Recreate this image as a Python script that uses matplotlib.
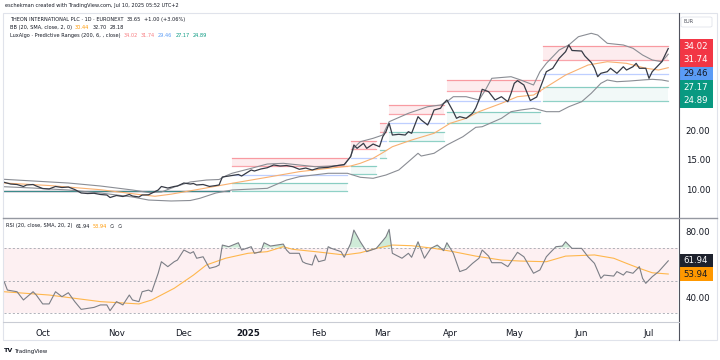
import numpy as np
import matplotlib
matplotlib.use("Agg")
import matplotlib.pyplot as plt
from matplotlib import transforms
from matplotlib.patches import Rectangle, FancyBboxPatch
from matplotlib.lines import Line2D

# ---------------- data (x = trading-day index, 0 = 1 Oct 2024) ----------------
close_idx = [-12, -10, -8, -6, -5, -3, -2, 0, 2, 4, 6, 8, 10, 12, 14, 16, 18, 20, 21, 23, 25, 27, 28, 30, 31, 33,
             36, 37, 39, 41, 42, 44, 46, 47, 48, 50, 52, 54, 55, 56, 58, 61, 62, 65, 66, 68, 70, 72, 74, 76, 78, 80,
             82, 84, 86, 89, 91, 93, 94, 96, 97, 98, 100, 101, 103, 105, 106, 107, 108, 109, 111, 113, 114, 115,
             117, 118, 120, 121, 122, 124, 125, 126, 128, 129, 130, 132, 134, 135, 136, 137, 139, 141, 143, 145,
             146, 147, 148, 150, 152, 154, 156, 157, 159, 161, 163, 164, 165, 168, 169, 171, 172, 173, 174, 176,
             177, 179, 181, 182, 184, 185, 186, 188, 189, 190, 192, 193, 194, 195]
close_px = [11.24, 10.95, 10.87, 10.54, 10.79, 10.87, 10.62, 10.20, 10.12, 10.54, 10.37, 10.45, 10.03, 9.45, 9.36,
            9.40, 9.20, 9.11, 8.69, 9.03, 8.86, 9.20, 8.94, 8.78, 9.11, 9.15, 9.95, 10.54, 10.28, 10.54, 10.62,
            11.12, 10.95, 11.04, 10.79, 10.87, 10.55, 10.70, 10.80, 12.13, 12.29, 12.55, 12.29, 13.30, 13.13,
            13.47, 13.68, 14.14, 13.97, 14.05, 13.85, 13.42, 13.63, 13.30, 13.63, 13.75, 13.97, 14.14, 14.22,
            15.53, 17.49, 16.93, 17.77, 16.93, 17.65, 17.20, 18.88, 19.72, 21.12, 19.16, 19.28, 19.16, 19.72,
            19.45, 22.23, 21.68, 20.84, 21.96, 23.35, 23.64, 24.47, 25.03, 23.07, 21.96, 22.23, 21.96, 22.80,
            23.69, 25.03, 26.82, 26.42, 25.03, 25.58, 24.74, 26.15, 27.82, 28.26, 27.54, 24.94, 25.53, 28.38,
            29.77, 30.34, 32.01, 33.12, 34.24, 33.32, 33.23, 32.40, 31.31, 30.39, 28.93, 29.50, 29.77, 30.34,
            29.50, 30.60, 30.05, 30.60, 31.17, 30.34, 30.34, 28.66, 29.77, 30.89, 31.44, 32.56, 33.65]

bb_up_idx = [-12, -3, 8, 18, 28, 33, 37, 41, 46, 51, 55, 57, 59, 65, 70, 75, 80, 85, 90, 94, 96, 97, 99, 103, 106,
             108, 114, 120, 124, 126, 128, 132, 136, 138, 140, 146, 149, 153, 155, 157, 161, 164, 167, 171, 173,
             176, 181, 184, 187, 190, 193, 195]
bb_up = [11.74, 11.46, 11.12, 10.62, 9.95, 9.53, 9.61, 10.45, 11.29, 11.62, 11.71, 12.30, 12.75, 13.58, 14.30,
         14.42, 14.14, 13.85, 13.97, 14.14, 15.60, 17.00, 18.04, 18.61, 19.16, 21.39, 22.80, 23.90, 24.19, 24.74,
         25.58, 25.58, 25.03, 26.70, 28.66, 28.93, 28.38, 27.54, 29.77, 31.17, 33.40, 34.24, 35.63, 36.20, 35.91,
         34.52, 34.24, 33.69, 32.56, 31.73, 31.44, 32.70]

bb_mid_idx = [-12, 2, 18, 30, 35, 40, 49, 59, 70, 80, 89, 96, 99, 103, 106, 109, 115, 122, 127, 132, 136, 143,
              148, 153, 158, 163, 170, 176, 182, 188, 192, 195]
bb_mid = [11.12, 10.70, 10.00, 9.20, 8.90, 9.25, 10.10, 11.07, 12.08, 13.02, 13.58, 13.97, 14.42, 15.26, 16.20,
          17.20, 18.32, 19.45, 21.12, 21.96, 23.07, 24.47, 25.58, 25.86, 27.54, 29.21, 30.89, 31.44, 31.17, 30.34,
          30.05, 30.44]

bb_lo_idx = [-12, -3, 8, 18, 28, 33, 40, 46, 49, 54, 59, 70, 76, 80, 89, 95, 99, 103, 107, 111, 114, 117, 118,
             122, 126, 131, 135, 137, 143, 146, 149, 153, 157, 161, 164, 168, 171, 174, 176, 179, 183, 187, 190,
             193, 195]
bb_lo = [10.50, 10.28, 9.95, 9.45, 8.78, 8.27, 8.11, 8.19, 8.56, 9.45, 9.95, 10.23, 11.62, 12.18, 12.75, 12.75,
         12.08, 11.91, 12.46, 13.30, 14.69, 16.10, 15.64, 16.10, 17.49, 18.88, 20.45, 20.55, 21.96, 23.07, 23.35,
         23.64, 23.07, 23.07, 23.90, 24.74, 26.15, 27.82, 28.38, 28.09, 28.21, 28.38, 28.49, 28.38, 28.18]

# LuxAlgo predictive range segments
pr_start = [-12, 59, 96, 105, 108, 126, 156]
pr_end = [58, 95, 104, 107, 125, 155, 195]
pr_r2 = [9.78, 15.26, 18.16, 21.12, 24.19, 28.38, 34.02]
pr_r1 = [9.78, 13.89, 16.75, 19.66, 22.68, 26.58, 31.74]
pr_avg = [9.78, 12.52, 15.34, 18.19, 21.20, 24.80, 29.46]
pr_s1 = [9.78, 11.15, 13.94, 16.73, 19.71, 23.01, 27.17]
pr_s2 = [9.78, 9.78, 12.55, 15.26, 18.21, 21.22, 24.89]

rsi_idx = [-12, -11, -8, -6, -3, -2, 0, 2, 4, 6, 8, 10, 12, 14, 16, 18, 20, 21, 23, 25, 27, 28, 30, 31, 33, 34,
           36, 37, 39, 41, 42, 44, 46, 47, 48, 50, 52, 54, 55, 56, 58, 61, 62, 65, 66, 68, 69, 71, 73, 75, 76, 77,
           80, 81, 82, 84, 85, 86, 88, 89, 90, 93, 94, 96, 97, 99, 101, 104, 106, 107, 108, 109, 112, 114, 115,
           117, 119, 121, 123, 125, 126, 128, 130, 132, 134, 136, 137, 139, 140, 143, 145, 148, 150, 153, 155,
           157, 158, 160, 162, 163, 165, 168, 170, 172, 174, 175, 178, 179, 181, 182, 184, 186, 187, 188, 190,
           192, 195]
rsi_val = [49.3, 44.2, 43.2, 38.2, 43.2, 41.2, 35.8, 35.8, 43.2, 40.2, 42.6, 37.2, 32.5, 33.1, 33.7, 35.2, 35.2,
           31.7, 37.2, 35.2, 41.2, 38.2, 37.2, 43.2, 44.2, 43.2, 54.4, 61.4, 58.4, 61.4, 62.4, 68.5, 66.5, 67.5,
           63.5, 64.4, 57.4, 58.4, 59.4, 71.5, 70.5, 72.9, 68.5, 70.5, 66.5, 67.5, 72.9, 70.9, 71.5, 72.1, 68.5,
           66.5, 66.5, 61.4, 60.4, 59.4, 65.5, 61.4, 62.4, 70.5, 69.5, 67.5, 64.1, 72.5, 80.6, 73.5, 67.5, 69.5,
           74.1, 76.5, 81.0, 66.5, 63.5, 66.5, 64.1, 73.5, 63.5, 69.5, 71.5, 68.1, 72.9, 66.5, 55.4, 56.8, 60.4,
           63.5, 68.5, 64.8, 60.8, 60.8, 58.4, 67.1, 64.4, 54.4, 56.4, 64.4, 66.5, 70.5, 70.9, 73.5, 69.5, 69.5,
           64.4, 60.4, 51.3, 53.3, 52.7, 55.4, 53.3, 55.4, 54.4, 58.4, 51.3, 48.3, 52.3, 55.4, 61.94]

rsi_ma_idx = [-12, 2, 18, 30, 34, 41, 47, 51, 57, 64, 70, 75, 78, 85, 94, 99, 104, 109, 115, 122, 128, 135, 143,
              149, 157, 163, 172, 178, 182, 186, 190, 195]
rsi_ma = [43.2, 41.2, 37.2, 35.8, 38.2, 45.3, 53.3, 59.4, 63.5, 66.5, 67.5, 70.5, 68.9, 67.5, 65.5, 66.8, 69.5,
          71.5, 71.1, 69.5, 67.5, 64.8, 62.4, 61.8, 61.4, 64.8, 65.5, 63.5, 60.4, 57.4, 54.7, 53.94]

month_idx = [0, 23, 44, 64, 86, 106, 127, 147, 168, 189]
month_lbl = ["Oct", "Nov", "Dec", "2025", "Feb", "Mar", "Apr", "May", "Jun", "Jul"]

price_ticks = [10, 15, 20]
rsi_ticks = [40, 80]

# ---------------- layout ----------------
W, H = 720, 360
fig = plt.figure(figsize=(7.2, 3.6), dpi=100)
fig.patch.set_facecolor("white")


def fx(px):
    return px / W


def fy(py):
    return 1 - py / H


TXT = "#131722"
RED = "#f23645"
BLUE = "#5b9cf6"
TEAL = "#089981"
ORANGE = "#ff9800"
TICK_FS = 6.2

ax = fig.add_axes([fx(4), fy(218), fx(678) - fx(4), (218 - 13) / H])
ax2 = fig.add_axes([fx(4), fy(321), fx(678) - fx(4), (321 - 219) / H])
XL = (-12.06, 198.04)

for a in (ax, ax2):
    a.set_xlim(*XL)
    for s in a.spines.values():
        s.set_visible(False)
    a.set_facecolor("white")
    a.tick_params(axis="both", length=0, labelsize=TICK_FS, labelcolor=TXT)
    a.yaxis.tick_right()

# ---------------- price pane ----------------
ax.set_ylim(5.26, 39.6)
for s, e, r2, r1, av, s1, s2 in zip(pr_start, pr_end, pr_r2, pr_r1, pr_avg, pr_s1, pr_s2):
    ax.fill_between([s, e], [r1, r1], [r2, r2], color=RED, alpha=0.09, lw=0, zorder=1)
    ax.fill_between([s, e], [s2, s2], [s1, s1], color=TEAL, alpha=0.05, lw=0, zorder=1)
    ax.plot([s, e], [r2, r2], color=RED, alpha=0.45, lw=0.9, zorder=2)
    ax.plot([s, e], [r1, r1], color=RED, alpha=0.45, lw=0.9, zorder=2)
    ax.plot([s, e], [av, av], color="#2962ff", alpha=0.3, lw=0.9, zorder=2)
    ax.plot([s, e], [s1, s1], color=TEAL, alpha=0.45, lw=0.9, zorder=2)
    ax.plot([s, e], [s2, s2], color=TEAL, alpha=0.45, lw=0.9, zorder=2)

ax.plot(bb_up_idx, bb_up, color="#8a8d94", lw=0.8, zorder=3)
ax.plot(bb_lo_idx, bb_lo, color="#8a8d94", lw=0.8, zorder=3)
ax.plot(bb_mid_idx, bb_mid, color="#f9b070", lw=0.8, zorder=3)
ax.plot(close_idx, close_px, color="#363a45", lw=0.9, zorder=4)

ax.set_yticks(price_ticks)
ax.set_yticklabels([f"{v:.2f}" for v in price_ticks])
ax.tick_params(axis="y", pad=5.5)
ax.set_xticks([])

# ---------------- RSI pane ----------------
ax2.set_ylim(25.45, 87.3)
ax2.axhspan(30, 70, color="#fdf0f2", lw=0, zorder=0)
for lv in (70, 50, 30):
    ax2.axhline(lv, color="#a3a6af", lw=0.6, ls=(0, (2.5, 2.5)), zorder=1)
ri = np.array(rsi_idx, dtype=float)
rv = np.array(rsi_val, dtype=float)
ax2.fill_between(ri, 70, rv, where=rv > 70, interpolate=True, color="#a8dbb8", alpha=0.55, lw=0, zorder=2)
ax2.plot(rsi_ma_idx, rsi_ma, color="#ffb74d", lw=0.8, zorder=3)
ax2.plot(rsi_idx, rsi_val, color="#7b7e86", lw=0.8, zorder=4)
ax2.set_yticks(rsi_ticks)
ax2.set_yticklabels([f"{v:.2f}" for v in rsi_ticks])
ax2.tick_params(axis="y", pad=5.5)
ax2.set_xticks(month_idx)
ax2.set_xticklabels(month_lbl)
ax2.tick_params(axis="x", pad=5.5)
for t in ax2.get_xticklabels():
    if t.get_text() == "2025":
        t.set_fontweight("bold")


# ---------------- axis value labels ----------------
def axis_label(a, v, h, bg, fg):
    tr = transforms.blended_transform_factory(fig.transFigure, a.transData)
    r = Rectangle((fx(679), v - h / 2), fx(713) - fx(679), h, transform=tr, facecolor=bg,
                  edgecolor="none", clip_on=False, zorder=20)
    a.add_artist(r)
    a.text(fx(696), v, f"{v:.2f}", transform=tr, ha="center", va="center", fontsize=TICK_FS,
           color=fg, clip_on=False, zorder=21)


ph = 13.8 / 5.97
axis_label(ax, pr_r2[-1], ph, RED, "white")
axis_label(ax, pr_r1[-1], ph, RED, "white")
axis_label(ax, pr_avg[-1], ph, BLUE, TXT)
axis_label(ax, pr_s1[-1], ph, TEAL, "white")
axis_label(ax, pr_s2[-1], ph, TEAL, "white")
rh = 13.2 / 1.65
axis_label(ax2, rsi_val[-1], rh, "#1e222d", "white")
axis_label(ax2, rsi_ma[-1], rh, ORANGE, TXT)

# ---------------- frame & separators ----------------
fig.add_artist(Rectangle((fx(3), fy(340)), fx(717) - fx(3), (340 - 13) / H, transform=fig.transFigure,
                         fill=False, edgecolor="#e0e3eb", lw=0.8))
fig.add_artist(Line2D([fx(678.5), fx(678.5)], [fy(13), fy(340)], transform=fig.transFigure,
                      color="#50535e", lw=0.8))
fig.add_artist(Line2D([fx(3), fx(717)], [fy(218.5), fy(218.5)], transform=fig.transFigure,
                      color="#9598a1", lw=1.0))
fig.add_artist(Line2D([fx(3), fx(678.5)], [fy(321.5), fy(321.5)], transform=fig.transFigure,
                      color="#c9ccd4", lw=0.8))

# EUR box
fig.add_artist(FancyBboxPatch((fx(681), fy(27)), fx(712) - fx(681), 10 / H, boxstyle="round,pad=0,rounding_size=0.003",
                              transform=fig.transFigure, facecolor="white", edgecolor="#e0e3eb", lw=0.6))
fig.text(fx(684), fy(21.8), "EUR", fontsize=3.6, color="#50535e", va="center", ha="left")

# ---------------- header texts ----------------
renderer = fig.canvas.get_renderer()


def seg_text(x_px, y_px, parts, size=3.6, gap=3.0):
    x = x_px
    for s, c in parts:
        t = fig.text(fx(x), fy(y_px), s, color=c, fontsize=size, va="center", ha="left")
        bb = t.get_window_extent(renderer=renderer)
        x += bb.width + gap


seg_text(5, 6, [("eschekman created with TradingView.com, Jul 10, 2025 05:52 UTC+2", TXT)])
seg_text(10, 19.3, [("THEON INTERNATIONAL PLC · 1D · EURONEXT", TXT), ("33.65", TXT), ("+1.00 (+3.06%)", TXT)])
seg_text(10, 27.6, [("BB (20, SMA, close, 2, 0)", TXT), ("30.44", ORANGE), ("32.70", TXT), ("28.18", TXT)])
seg_text(10, 35.8, [("LuxAlgo · Predictive Ranges (200, 6, , close)", TXT), ("34.02", "#f77c80"),
                    ("31.74", "#f77c80"), ("29.46", BLUE), ("27.17", TEAL), ("24.89", TEAL)])
seg_text(6, 226, [("RSI (20, close, SMA, 20, 2)", TXT), ("61.94", TXT), ("53.94", ORANGE), ("∅", TXT), ("∅", TXT)])

# TradingView logo
fig.text(fx(4), fy(351), "TV", fontsize=4.6, fontweight="bold", color=TXT, va="center", ha="left")
fig.text(fx(14), fy(351), "TradingView", fontsize=4.0, color=TXT, va="center", ha="left")

fig.savefig("out.png", dpi=100, facecolor="white")
